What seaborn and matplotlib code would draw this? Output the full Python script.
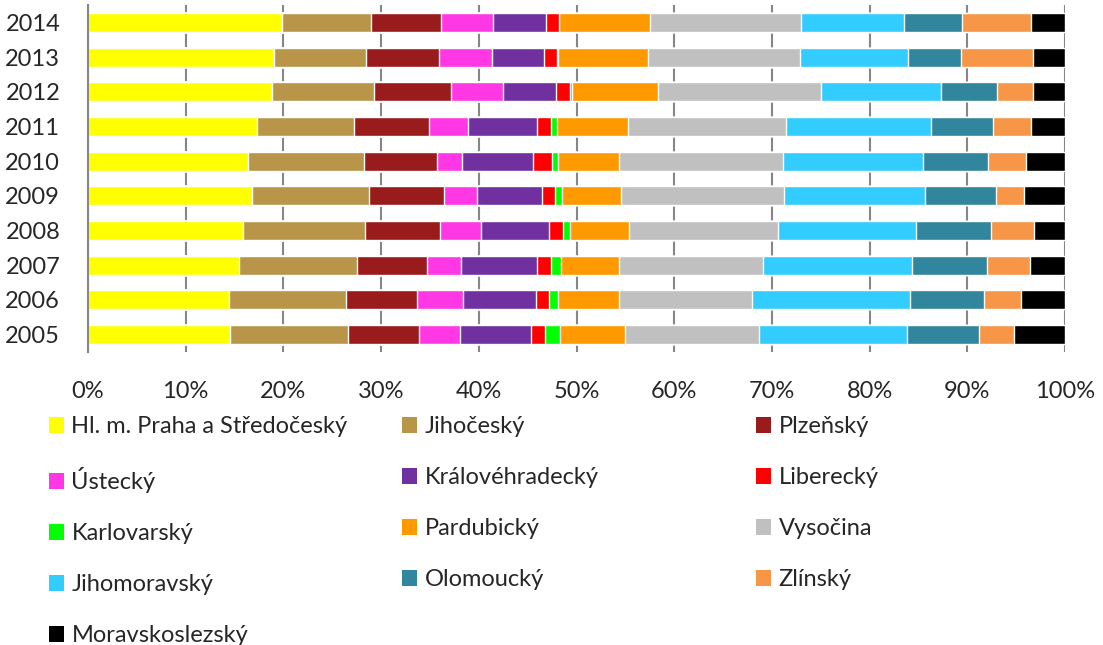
import numpy as np
import pandas as pd
import matplotlib
matplotlib.use("Agg")
import matplotlib.pyplot as plt
import seaborn as sns
from matplotlib.patches import Patch

# Shares of regions per year (%)
years = ["2005", "2006", "2007", "2008", "2009", "2010", "2011", "2012", "2013", "2014"]
praha = [14.5, 14.4, 15.5, 15.9, 16.8, 16.4, 17.3, 18.8, 19.0, 19.9]
jihocesky = [12.1, 12.0, 12.0, 12.5, 12.0, 11.8, 9.9, 10.5, 9.5, 9.1]
plzensky = [7.3, 7.3, 7.2, 7.6, 7.6, 7.5, 7.7, 7.9, 7.4, 7.1]
ustecky = [4.2, 4.7, 3.5, 4.2, 3.4, 2.6, 4.0, 5.3, 5.4, 5.4]
kralovehradecky = [7.2, 7.5, 7.8, 7.0, 6.7, 7.2, 7.1, 5.4, 5.4, 5.4]
liberecky = [1.5, 1.3, 1.4, 1.4, 1.3, 2.0, 1.4, 1.4, 1.3, 1.3]
karlovarsky = [1.5, 0.9, 1.0, 0.7, 0.7, 0.6, 0.6, 0.2, 0.1, 0.0]
pardubicky = [6.7, 6.2, 6.0, 6.1, 6.1, 6.2, 7.3, 8.8, 9.2, 9.3]
vysocina = [13.7, 13.7, 14.7, 15.2, 16.6, 16.8, 16.1, 16.7, 15.6, 15.5]
jihomoravsky = [15.1, 16.1, 15.2, 14.1, 14.5, 14.4, 14.9, 12.3, 11.0, 10.5]
olomoucky = [7.4, 7.6, 7.7, 7.7, 7.2, 6.6, 6.3, 5.7, 5.5, 6.0]
zlinsky = [3.6, 3.8, 4.4, 4.4, 2.9, 3.9, 3.9, 3.7, 7.3, 7.0]
moravskoslezsky = [5.2, 4.5, 3.6, 3.2, 4.2, 4.0, 3.5, 3.3, 3.3, 3.5]

regions = ["Hl. m. Praha a Středočeský", "Jihočeský", "Plzeňský", "Ústecký",
           "Královéhradecký", "Liberecký", "Karlovarský", "Pardubický", "Vysočina",
           "Jihomoravský", "Olomoucký", "Zlínský", "Moravskoslezský"]
colors = ["#FFFF00", "#B9954A", "#9A1B1B", "#FF37E5", "#7030A0", "#FF0000", "#00FF00",
          "#FF9900", "#C0C0C0", "#33CCFF", "#31859C", "#F79646", "#000000"]

df = pd.DataFrame(
    [praha, jihocesky, plzensky, ustecky, kralovehradecky, liberecky, karlovarsky,
     pardubicky, vysocina, jihomoravsky, olomoucky, zlinsky, moravskoslezsky],
    index=regions, columns=years).T
df = df.div(df.sum(axis=1), axis=0) * 100
cum = df.cumsum(axis=1)
cum["year"] = cum.index

sns.set_style("white")
plt.rcParams["font.family"] = ["Lato", "DejaVu Sans"]

fig = plt.figure(figsize=(11.03, 6.45), dpi=100)
ax = fig.add_axes([88 / 1103, 1 - 352 / 645, (1065 - 88) / 1103, 347 / 645])

order = years[::-1]
# stacked bars: draw cumulative totals from the last region to the first
for reg, col in zip(regions[::-1], colors[::-1]):
    sns.barplot(data=cum, x=reg, y="year", order=order, color=col,
                width=0.55, saturation=1, ax=ax, orient="h")

ax.set_xlim(0, 100)
ax.set_ylim(9.5, -0.5)
ax.set_xticks(range(0, 101, 10))
ax.set_xticklabels([f"{v}%" for v in range(0, 101, 10)])
ax.set_xlabel("")
ax.set_ylabel("")
ax.set_axisbelow(True)
ax.grid(axis="x", color="#868686", linewidth=1.5)
ax.grid(axis="y", visible=False)
for s in ["top", "right", "bottom"]:
    ax.spines[s].set_visible(False)
ax.spines["left"].set_color("#868686")
ax.spines["left"].set_linewidth(1.5)
ax.tick_params(axis="x", length=0, pad=21, labelsize=17)
ax.tick_params(axis="y", length=0, pad=20, labelsize=17)

# legend: three columns, filled row by row
handles = [Patch(facecolor=c, edgecolor="none") for c in colors]
col_x = [49, 402, 756]
for i, x in enumerate(col_x):
    idx = list(range(i, len(regions), 3))
    fig.legend([handles[k] for k in idx], [regions[k] for k in idx],
               loc="upper left", bbox_to_anchor=(x / 1103, 1 - 416 / 645),
               frameon=False, fontsize=17, borderpad=0, borderaxespad=0,
               handlelength=0.65, handleheight=0.65, handletextpad=0.3,
               labelspacing=1.27)

fig.savefig("out.png", dpi=100)
